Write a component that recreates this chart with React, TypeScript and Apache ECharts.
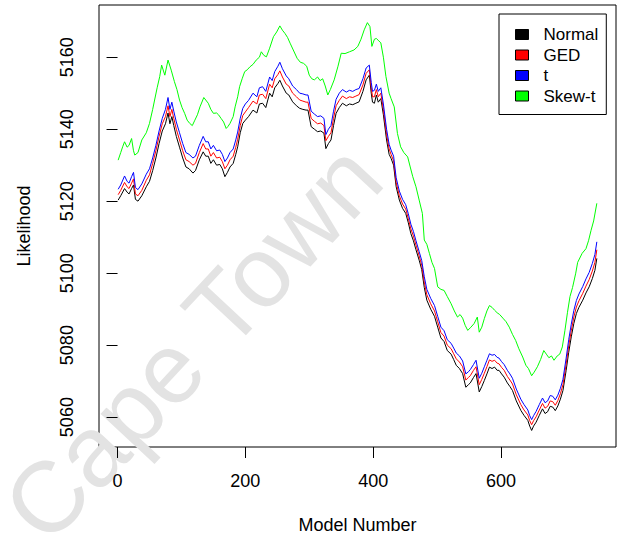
import React, { useEffect, useRef } from "react";
import * as echarts from "echarts";

// x positions (model numbers) sampled for Normal / GED / t
const modelsMain = [1,5,11,15,18,22,25,28,32,38,45,50,55,60,65,70,75,79,82,85,88,92,97,102,107,112,118,122,128,134,138,142,146,150,155,160,164,168,172,176,181,185,188,192,196,200,205,212,218,222,227,232,238,242,246,251,254,258,264,268,274,280,285,290,295,298,303,308,313,318,323,326,330,334,338,342,347,352,358,363,368,373,378,384,389,394,397,399,402,405,408,412,416,421,425,428,432,436,441,446,451,455,459,463,467,472,476,480,484,490,496,501,506,511,516,522,526,530,535,540,545,549,552,557,561,566,570,574,578,582,586,590,594,597,601,605,610,614,618,624,631,636,642,645,648,651,655,660,665,669,673,677,681,685,689,693,697,702,706,710,714,718,722,728,733,738,743,747,750];

const normal = [5120.3,5121.5,5123.5,5122.5,5122.0,5123.5,5124.5,5120.5,5120.0,5121.5,5124.0,5125.5,5128.5,5132,5136,5139.5,5141.5,5144.5,5141.5,5143.5,5141,5138,5135,5132,5129.5,5129,5127.8,5128.5,5131.5,5133.7,5132.5,5132.5,5130.5,5131.5,5130,5130.2,5129,5126.8,5128,5129.5,5130.5,5133,5135.1,5139,5141.6,5142.5,5143.5,5145.3,5144.5,5147,5147.2,5146,5150,5149,5151.5,5152.7,5153.6,5152,5150,5149.5,5147.6,5146.5,5145.8,5145.5,5145.3,5145.3,5140.7,5140,5139.3,5139.5,5138.9,5134.6,5136,5137,5141,5144.4,5146,5147.2,5146.5,5147,5146.8,5147.2,5147.6,5150.5,5153.7,5155,5150,5147.5,5147.2,5149.5,5147.5,5148.5,5144,5137,5133,5131.9,5130,5124,5120.3,5118,5116.6,5114,5111,5109,5106.5,5103.6,5101,5096,5092.5,5090,5088,5085,5082,5081,5078.5,5077.5,5076,5074.4,5073.5,5072.1,5068.3,5069,5069.5,5071,5072.1,5067,5068.5,5070.2,5072,5073.9,5073.5,5073.9,5073,5073,5072,5071.1,5069.5,5068.5,5067.4,5064.5,5061.9,5060.5,5059.1,5057.5,5056.3,5057.5,5058.6,5060.5,5062.3,5061,5061.5,5063,5062.8,5061.8,5063.1,5065,5067.4,5073,5078,5082.3,5086,5088.8,5090.5,5092.5,5094.5,5096.2,5098.5,5100.8,5104.1];

const ged = [5121.8,5123,5125.2,5124,5123.5,5125,5126.2,5122,5121.5,5123,5125.8,5127.3,5130.5,5134,5138,5141.5,5143.5,5146.5,5143.5,5145.5,5143,5140,5137,5134,5131.5,5131,5130,5130.5,5133.5,5136,5134.5,5134.5,5132.5,5133.5,5132,5132.2,5131,5129,5130,5131.5,5132.5,5135,5137.2,5141,5143.8,5144.8,5146,5147.8,5147,5149.5,5149.7,5148.5,5152.5,5151.5,5154,5155.2,5156.2,5154.5,5152.5,5152,5150,5149,5148.1,5147.8,5147.5,5147.5,5143,5142.2,5141.5,5141.7,5141,5136.8,5138,5139,5143,5146.5,5148,5149.2,5148.5,5149,5148.8,5149.2,5149.6,5152.3,5155.5,5156.5,5151.5,5149,5149,5151,5149,5150,5145.5,5138.5,5134.5,5133,5131.2,5125.2,5121.5,5119.2,5117.8,5115.2,5112.3,5110.3,5107.8,5104.8,5102.2,5097.5,5094,5091.5,5089.5,5086.5,5083.5,5082.5,5080,5079,5077.6,5076.2,5075.3,5074,5070.3,5071,5071.5,5073,5074,5069,5070.5,5072.2,5074,5075.9,5075.5,5075.8,5075,5074.8,5073.8,5073,5071.3,5070.3,5069.2,5066.2,5063.5,5062,5060.6,5059,5057.9,5059,5060.1,5062,5063.8,5062.5,5063,5064.5,5064.3,5063.3,5064.6,5066.5,5069,5074.7,5079.8,5084,5087.8,5090.6,5092.3,5094.4,5096.4,5098.2,5100.6,5103,5106.5];

const tDist = [5123.3,5124.5,5127,5125.5,5125,5126.8,5128,5123.8,5123.2,5124.8,5127.5,5129,5132,5135.5,5139.5,5143,5145.5,5148.8,5145.5,5147.5,5145,5142,5139,5136,5133.5,5133,5132,5132.5,5135.5,5138,5136.5,5136.5,5134.5,5135.5,5134,5134.2,5133,5131,5132,5133.5,5134.5,5137,5139.2,5143,5145.8,5147,5148,5150,5149,5151.5,5151.8,5150.5,5154.5,5153.5,5156,5157.5,5158.6,5156.8,5154.8,5154,5152,5151,5150,5149.8,5149.5,5149.5,5145,5144.2,5143.5,5143.7,5143,5138.5,5140,5141,5145,5148.3,5150,5151,5150.3,5150.8,5150.5,5151,5151.3,5154,5157,5157.8,5153,5150.5,5150.8,5152.5,5150.5,5151.5,5147,5140,5135.8,5134.2,5132.5,5126.5,5122.8,5120.5,5119,5116.5,5113.6,5111.6,5109,5106,5103.5,5099,5095.5,5093,5091,5088,5085,5084,5081.5,5080.5,5079.2,5077.8,5077,5075.6,5072,5072.6,5073.2,5074.6,5075.8,5070.8,5072.2,5074,5075.8,5077.6,5077.2,5077.4,5076.6,5076.4,5075.4,5074.6,5073,5072,5070.8,5067.8,5065,5063.5,5062,5060.4,5059.3,5060.4,5061.6,5063.5,5065.3,5064,5064.5,5066,5065.8,5064.8,5066.1,5068,5070.5,5076.4,5081.5,5085.8,5089.6,5092.4,5094.2,5096.3,5098.4,5100.2,5102.7,5105.2,5108.7];

// x positions sampled for Skew-t
const modelsSkew = [1,5,8,11,15,18,22,25,27,32,38,45,50,55,58,62,66,69,74,79,84,89,93,97,101,105,109,113,117,121,125,129,135,142,146,150,155,158,162,166,170,173,176,181,184,188,191,195,199,203,207,212,217,222,225,229,233,238,244,249,254,258,262,266,270,275,281,286,291,296,300,304,308,313,317,321,325,329,333,339,345,350,356,363,370,376,381,386,391,395,398,402,405,409,412,416,420,425,428,433,438,443,448,454,458,462,467,472,477,480,484,488,492,496,501,506,511,516,522,527,532,536,540,544,548,553,558,563,566,570,574,578,582,586,590,594,598,603,608,613,618,623,628,634,639,643,648,652,657,662,667,671,675,679,683,688,692,696,700,704,708,712,717,720,727,733,737,741,745,750];

const skewT = [5131.4,5133.5,5135.1,5136.5,5135,5135.5,5137.4,5134,5132.8,5133.5,5137,5139,5141.6,5145.5,5148.1,5151.5,5154.6,5157.8,5155,5159.2,5156.4,5153.2,5151,5148.1,5146,5144.4,5142.5,5141.6,5141,5142.5,5144,5146.2,5148.8,5147.2,5145.5,5144.4,5144.5,5144,5143,5142,5140.2,5140.8,5141.6,5143.5,5146.2,5149,5151.8,5154,5156,5156.5,5157.3,5158,5159.2,5160,5161.5,5160.5,5160.1,5162.5,5165.7,5167,5168.7,5167.5,5166.6,5165.5,5163.9,5162,5159.7,5158.6,5158.3,5157.5,5155,5154,5153.7,5154.5,5153.5,5154,5152,5149.5,5151,5153.7,5157.5,5161.1,5161,5161.5,5162,5163,5165,5167.6,5169.6,5168.5,5163,5165,5165.2,5164.5,5164,5160,5154.6,5150,5148.5,5146.2,5138.8,5135.1,5133.5,5132.3,5129.5,5126.8,5124,5120.3,5116.6,5109.2,5108,5105.5,5103,5101.3,5096.2,5095.5,5095.2,5093.5,5091.5,5089.5,5087.8,5088.5,5087.5,5085.5,5084.1,5085,5086,5087.8,5083.6,5085,5087.4,5089.5,5091,5090.5,5089.7,5089,5088.5,5087.5,5086.5,5085,5083,5081.3,5079,5076.7,5074.4,5073.5,5071.5,5072.5,5074,5076,5078.5,5077.5,5076.5,5077,5075.8,5077,5077.5,5079.5,5084,5089,5093.5,5096,5100,5103,5105.5,5106.8,5109,5111.9,5114.5,5119.4];

const seriesNames = ["Normal", "GED", "t", "Skew-t"];
const seriesColors = ["#000000", "#ff0000", "#0000ff", "#00ff00"];
const xTicks = [0, 200, 400, 600];
const yTicks = [5060, 5080, 5100, 5120, 5140, 5160];

const FONT = "'Liberation Sans', Arial, Helvetica, sans-serif";

export default function App() {
  const ref = useRef<HTMLDivElement>(null);
  useEffect(() => {
    if (!ref.current) return;
    const chart = echarts.init(ref.current, undefined, { renderer: "svg" });
    const seriesX = [modelsMain, modelsMain, modelsMain, modelsSkew];
    const seriesY = [normal, ged, tDist, skewT];
    chart.setOption({
      animation: false,
      backgroundColor: "#ffffff",
      textStyle: { fontFamily: FONT },
      grid: {
        left: 99,
        top: 5,
        right: 2,
        bottom: 94,
        show: true,
        borderColor: "#000",
        borderWidth: 1,
        backgroundColor: "transparent",
      },
      graphic: [
        {
          type: "text",
          x: 192,
          y: 342,
          rotation: (47 * Math.PI) / 180,
          z: 0,
          silent: true,
          style: {
            text: "Cape Town",
            font: `100px ${FONT}`,
            fill: "#e3e3e3",
            align: "center",
            verticalAlign: "middle",
          },
        },
      ],
      legend: {
        orient: "vertical",
        left: 499,
        top: 14,
        padding: [12, 8, 10, 16],
        itemWidth: 13,
        itemHeight: 10,
        itemGap: 3.5,
        borderColor: "#000",
        borderWidth: 1,
        backgroundColor: "#fff",
        icon: "rect",
        itemStyle: { borderColor: "#000", borderWidth: 1 },
        textStyle: { fontSize: 17, color: "#000", fontFamily: FONT, padding: [0, 0, 0, 10] },
        data: seriesNames,
      },
      xAxis: {
        type: "value",
        min: -29,
        max: 780,
        name: "Model Number",
        nameLocation: "middle",
        nameGap: 69,
        nameTextStyle: { fontSize: 18, color: "#000", fontFamily: FONT },
        axisLine: { show: false },
        splitLine: { show: false },
        axisTick: { show: true, length: 11, customValues: xTicks, lineStyle: { color: "#000" } },
        axisLabel: {
          customValues: xTicks,
          fontSize: 18,
          color: "#000",
          margin: 25,
          fontFamily: FONT,
          formatter: (v: number) => String(v),
        },
      },
      yAxis: {
        type: "value",
        min: 5051.7,
        max: 5174.5,
        name: "Likelihood",
        nameLocation: "middle",
        nameGap: 66,
        nameTextStyle: { fontSize: 18, color: "#000", fontFamily: FONT },
        axisLine: { show: false },
        splitLine: { show: false },
        axisTick: { show: true, length: 11, customValues: yTicks, lineStyle: { color: "#000" } },
        axisLabel: {
          customValues: yTicks,
          fontSize: 18,
          color: "#000",
          margin: 23,
          rotate: 90,
          fontFamily: FONT,
          formatter: (v: number) => String(v),
        },
      },
      series: seriesNames.map((name, k) => ({
        name,
        type: "line",
        showSymbol: false,
        symbol: "none",
        color: seriesColors[k],
        lineStyle: { width: 1, color: seriesColors[k] },
        data: seriesX[k].map((m, i) => [m, seriesY[k][i]]),
        z: 2 + k,
      })),
    });
    return () => chart.dispose();
  }, []);
  return (
    <div
      ref={ref}
      style={{ position: "fixed", left: 0, top: 0, width: 618, height: 541 }}
    />
  );
}
